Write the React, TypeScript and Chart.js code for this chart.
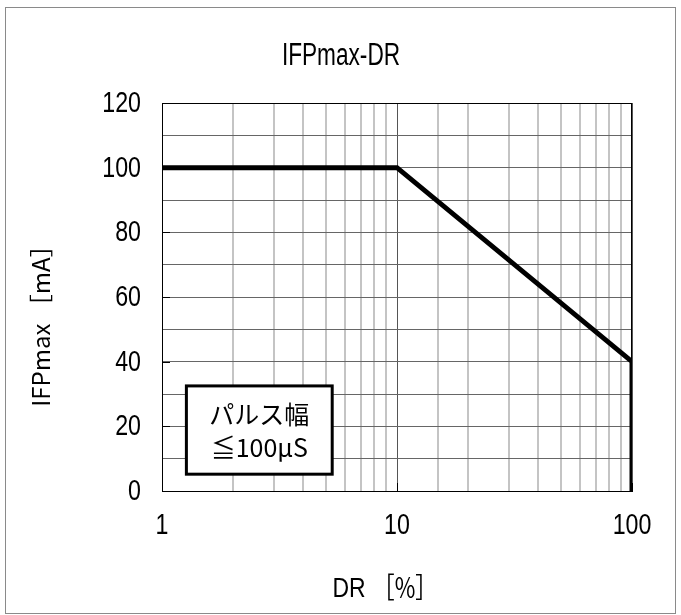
import React, { useEffect, useRef } from "react";
import { Chart, registerables } from "chart.js";

Chart.register(...registerables);

const chartTitle = "IFPmax-DR";
const xAxisTitleMain = "DR";
const xAxisTitleUnit = "［%］";
const yAxisTitle = "IFPmax ［mA］";
const noteLines = ["パルス幅", "≦100μS"];

const drValues = [1, 10, 100, 100];
const ifpValues = [100, 100, 40, 0];

const xMin = 1;
const xMax = 100;
const xLabelTicks = [1, 10, 100];
const yMin = 0;
const yMax = 120;
const yStep = 10;
const yLabelStep = 20;

const sansFont = "'Liberation Sans', Arial, sans-serif";
const jpFont = "'Noto Sans CJK JP', 'Noto Sans', sans-serif";

const isDecade = (v: number) => Math.abs(Math.log10(v) - Math.round(Math.log10(v))) < 1e-9;

function narrowText(ctx: any, text: string, x: number, y: number, sx: number, align: string) {
  ctx.save();
  ctx.translate(x, y);
  ctx.scale(sx, 1);
  ctx.textAlign = align;
  ctx.fillText(text, 0, 0);
  ctx.restore();
}

const decorPlugin = {
  id: "decor",
  beforeDraw(chart: any) {
    const ctx = chart.ctx;
    ctx.save();
    ctx.fillStyle = "#ffffff";
    ctx.fillRect(0, 0, chart.width, chart.height);
    ctx.restore();
  },
  beforeDatasetsDraw(chart: any) {
    const { ctx, chartArea } = chart;
    const xs = chart.scales.x;
    const ys = chart.scales.y;
    ctx.save();
    ctx.strokeStyle = "#000000";
    ctx.lineWidth = 1;
    ctx.strokeRect(chartArea.left + 0.5, chartArea.top + 0.5, chartArea.right - chartArea.left - 1, chartArea.bottom - chartArea.top);
    ctx.beginPath();
    ys.ticks.forEach((t: any) => {
      if (t.value % yLabelStep === 0) {
        const py = Math.round(ys.getPixelForValue(t.value)) + 0.5;
        ctx.moveTo(chartArea.left, py);
        ctx.lineTo(chartArea.left + 8, py);
      }
    });
    xLabelTicks.forEach((v) => {
      const px = Math.round(xs.getPixelForValue(v)) + 0.5;
      ctx.moveTo(px, chartArea.bottom);
      ctx.lineTo(px, chartArea.bottom - 8);
    });
    ctx.stroke();
    ctx.restore();
  },
  afterDraw(chart: any) {
    const { ctx, chartArea } = chart;
    const xs = chart.scales.x;
    const ys = chart.scales.y;
    ctx.save();
    ctx.strokeStyle = "#8a8a8a";
    ctx.lineWidth = 1;
    ctx.strokeRect(5.5, 7.5, 670, 606);

    ctx.fillStyle = "#000000";
    ctx.textBaseline = "middle";

    // tick labels
    ctx.font = `29px ${sansFont}`;
    ys.ticks.forEach((t: any) => {
      if (t.value % yLabelStep === 0) {
        narrowText(ctx, String(t.value), chartArea.left - 21, ys.getPixelForValue(t.value) + 1, 0.8, "right");
      }
    });
    xLabelTicks.forEach((v) => {
      narrowText(ctx, String(v), xs.getPixelForValue(v), chartArea.bottom + 35, 0.8, "center");
    });

    // title
    ctx.font = `31px ${sansFont}`;
    narrowText(ctx, chartTitle, 341, 56, 0.73, "center");

    // x axis title
    ctx.font = `28px ${sansFont}`;
    narrowText(ctx, xAxisTitleMain, 349, 589, 0.82, "center");
    ctx.font = `28px ${jpFont}`;
    narrowText(ctx, xAxisTitleUnit, 405, 587, 0.8, "center");

    // y axis title
    ctx.save();
    ctx.translate(41, 320);
    ctx.rotate(-Math.PI / 2);
    ctx.font = `24px ${jpFont}`;
    ctx.textAlign = "center";
    ctx.fillText(yAxisTitle, 0, 0);
    ctx.restore();

    // note box
    const bx = xs.getPixelForValue(1.27);
    const bx2 = xs.getPixelForValue(5.3);
    const by = ys.getPixelForValue(32.5);
    const by2 = ys.getPixelForValue(5.2);
    ctx.fillStyle = "#ffffff";
    ctx.fillRect(bx, by, bx2 - bx, by2 - by);
    ctx.strokeStyle = "#000000";
    ctx.lineWidth = 3;
    ctx.strokeRect(bx, by, bx2 - bx, by2 - by);
    ctx.fillStyle = "#000000";
    ctx.font = `25px ${jpFont}`;
    ctx.textAlign = "center";
    const cx = (bx + bx2) / 2;
    ctx.fillText(noteLines[0], cx, by + 29);
    ctx.fillText(noteLines[1], cx, by + 62);
    ctx.restore();
  },
};

export default function App() {
  const canvasRef = useRef<HTMLCanvasElement | null>(null);

  useEffect(() => {
    if (!canvasRef.current) return;
    const data = drValues.map((x, i) => ({ x, y: ifpValues[i] }));
    const chart = new Chart(canvasRef.current, {
      type: "line",
      data: {
        datasets: [
          {
            data,
            borderColor: "#000000",
            borderWidth: 5,
            pointRadius: 0,
            borderJoinStyle: "miter",
            borderCapStyle: "butt",
            tension: 0,
            fill: false,
          },
        ],
      },
      options: {
        responsive: false,
        animation: false,
        devicePixelRatio: 1,
        layout: { padding: { left: 0, right: 49, top: 103, bottom: 0 } },
        plugins: {
          legend: { display: false },
          title: { display: false },
          tooltip: { enabled: false },
        },
        scales: {
          x: {
            type: "logarithmic",
            min: xMin,
            max: xMax,
            afterFit: (s: any) => {
              s.height = 124;
            },
            border: { display: true, color: "#000000", width: 1 },
            grid: {
              drawTicks: false,
              color: (c: any) => (c.tick && isDecade(c.tick.value) ? "#555555" : "#c4c4c4"),
              lineWidth: (c: any) => (c.tick && isDecade(c.tick.value) ? 1 : 2),
            },
            ticks: {
              autoSkip: false,
              maxRotation: 0,
              display: false,
            },
          },
          y: {
            type: "linear",
            min: yMin,
            max: yMax,
            afterFit: (s: any) => {
              s.width = 162;
            },
            border: { display: true, color: "#000000", width: 1 },
            grid: {
              drawTicks: false,
              color: "#666666",
              lineWidth: 1,
            },
            ticks: {
              stepSize: yStep,
              display: false,
            },
          },
        },
      },
      plugins: [decorPlugin],
    });
    return () => chart.destroy();
  }, []);

  return (
    <div style={{ position: "absolute", left: 0, top: 0, width: 681, height: 615 }}>
      <canvas ref={canvasRef} width={681} height={615} style={{ display: "block" }} />
    </div>
  );
}
